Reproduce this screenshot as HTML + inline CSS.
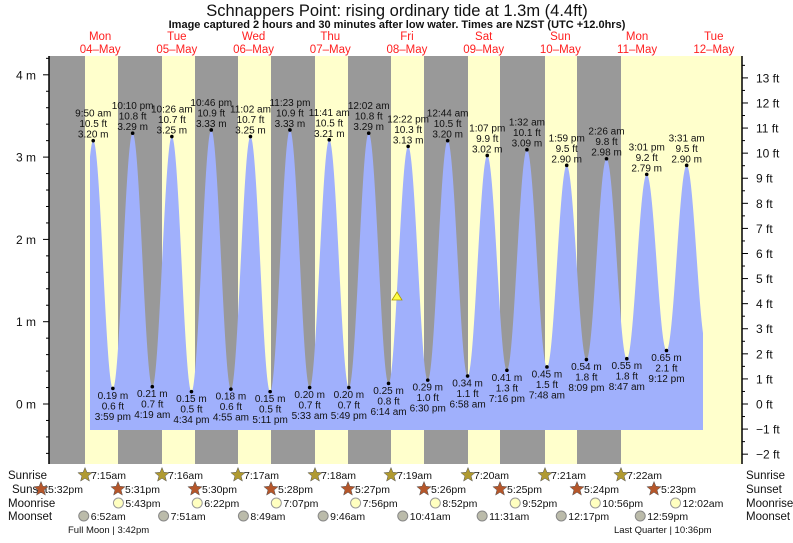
<!DOCTYPE html>
<html><head><meta charset="utf-8">
<style>
body{margin:0;background:#fff;}
svg text{font-family:"Liberation Sans",sans-serif;}
</style></head>
<body>
<svg id="s" width="793" height="538" viewBox="0 0 793 538" xmlns="http://www.w3.org/2000/svg">
<rect width="793" height="538" fill="#fff"/>
<text x="397" y="16" font-size="16.5" text-anchor="middle" fill="#111">Schnappers Point: rising  ordinary tide at 1.3m (4.4ft)</text>
<text x="397" y="28" font-size="11" font-weight="bold" text-anchor="middle" fill="#111">Image captured 2 hours and 30 minutes after low water. Times are NZST (UTC +12.0hrs)</text>
<g id="g"></g>
</svg>
<script>
const NS="http://www.w3.org/2000/svg",g=document.getElementById('g');
function el(t,a,txt){const e=document.createElementNS(NS,t);for(const k in a)e.setAttribute(k,a[k]);if(txt!==undefined)e.textContent=txt;g.appendChild(e);return e;}
const X=h=>61.8+h*3.196, Y=m=>404-m*82.3;
el('rect',{x:49,y:56,width:693,height:408,fill:'#ffffcc'});
[[49,85],[118,162],[195,238],[271,315],[348,391],[424,468],[500,545],[577,621]].forEach(([a,b])=>el('rect',{x:a,y:56,width:b-a,height:408,fill:'#999999'}));
const days=[['Mon','04–May'],['Tue','05–May'],['Wed','06–May'],['Thu','07–May'],['Fri','08–May'],['Sat','09–May'],['Sun','10–May'],['Mon','11–May'],['Tue','12–May']];
days.forEach((d,i)=>{const x=X(12+24*i);el('text',{x:x,y:40,'font-size':'11.5','text-anchor':'middle',fill:'#ff2020'},d[0]);el('text',{x:x,y:53,'font-size':'11.5','text-anchor':'middle',fill:'#ff2020'},d[1]);});
const T=[[3.683,0.2,''],[9.833,3.20,'9:50 am|10.5 ft'],[15.983,0.19,'3:59 pm|0.6 ft'],[22.167,3.29,'10:10 pm|10.8 ft'],[28.317,0.21,'4:19 am|0.7 ft'],[34.433,3.25,'10:26 am|10.7 ft'],[40.567,0.15,'4:34 pm|0.5 ft'],[46.767,3.33,'10:46 pm|10.9 ft'],[52.917,0.18,'4:55 am|0.6 ft'],[59.033,3.25,'11:02 am|10.7 ft'],[65.183,0.15,'5:11 pm|0.5 ft'],[71.383,3.33,'11:23 pm|10.9 ft'],[77.55,0.20,'5:33 am|0.7 ft'],[83.683,3.21,'11:41 am|10.5 ft'],[89.817,0.20,'5:49 pm|0.7 ft'],[96.033,3.29,'12:02 am|10.8 ft'],[102.233,0.25,'6:14 am|0.8 ft'],[108.367,3.13,'12:22 pm|10.3 ft'],[114.5,0.29,'6:30 pm|1.0 ft'],[120.733,3.20,'12:44 am|10.5 ft'],[126.967,0.34,'6:58 am|1.1 ft'],[133.117,3.02,'1:07 pm|9.9 ft'],[139.267,0.41,'7:16 pm|1.3 ft'],[145.533,3.09,'1:32 am|10.1 ft'],[151.8,0.45,'7:48 am|1.5 ft'],[157.983,2.90,'1:59 pm|9.5 ft'],[164.15,0.54,'8:09 pm|1.8 ft'],[170.433,2.98,'2:26 am|9.8 ft'],[176.783,0.55,'8:47 am|1.8 ft'],[183.017,2.79,'3:01 pm|9.2 ft'],[189.2,0.65,'9:12 pm|2.1 ft'],[195.517,2.90,'3:31 am|9.5 ft'],[201.7,0.7,'']];
function lvl(h){for(let i=0;i<T.length-1;i++){const a=T[i],b=T[i+1];if(h>=a[0]&&h<=b[0]){const f=(h-a[0])/(b[0]-a[0]);return a[1]+(b[1]-a[1])*(1-Math.cos(Math.PI*f))/2;}}return 0;}
let pts=['90,430'];
for(let x=90;x<=703;x+=0.5){const h=(x-61.8)/3.196;pts.push(x+','+Y(lvl(h)).toFixed(2));}
pts.push('703,430');
el('polygon',{points:pts.join(' '),fill:'#a0b0fc'});
T.forEach((t,i)=>{if(!t[2])return;const x=X(t[0]),y=Y(t[1]),p=t[2].split('|');el('circle',{cx:x,cy:y,r:1.8,fill:'#000'});
const fs={'font-size':'10','text-anchor':'middle',fill:'#111'};
if(t[1]>1){el('text',Object.assign({x:x,y:y-3},fs),t[1].toFixed(2)+' m');el('text',Object.assign({x:x,y:y-13.5},fs),p[1]);el('text',Object.assign({x:x,y:y-24},fs),p[0]);}
else{el('text',Object.assign({x:x,y:y+10.5},fs),t[1].toFixed(2)+' m');el('text',Object.assign({x:x,y:y+21},fs),p[1]);el('text',Object.assign({x:x,y:y+31.5},fs),p[0]);}});
el('polygon',{points:'397,292 392,300 402,300',fill:'#ffff44',stroke:'#aa9900','stroke-width':0.8});
el('line',{x1:49,y1:56,x2:49,y2:464,stroke:'#000','stroke-width':1.5});
el('line',{x1:742,y1:56,x2:742,y2:464,stroke:'#000','stroke-width':1.5});
for(let m=-0.6;m<=4.21;m+=0.2){const y=Y(m),maj=Math.abs(m-Math.round(m))<0.01;el('line',{x1:maj?43:46,y1:y,x2:49,y2:y,stroke:'#000'});if(maj)el('text',{x:36,y:y+4.5,'font-size':'12','text-anchor':'end',fill:'#111'},Math.round(m)+' m');}
for(let f=-2;f<=14;f+=0.5){const y=Y(f*0.3048);if(y<57)continue;const maj=f%1===0;el('line',{x1:742,y1:y,x2:maj?748:745,y2:y,stroke:'#000'});if(maj)el('text',{x:756,y:y+4.5,'font-size':'12',fill:'#111'},(f<0?'−'+(-f):f)+' ft');}
const lab=(y,t)=>{el('text',{x:8,y:y,'font-size':'11.5',fill:'#111'},t);el('text',{x:746,y:y,'font-size':'11.5',fill:'#111'},t);};
el('text',{x:8,y:479,'font-size':'11.5',fill:'#111'},'Sunrise');el('text',{x:746,y:479,'font-size':'11.5',fill:'#111'},'Sunrise');
el('text',{x:12,y:493,'font-size':'11.5',fill:'#111'},'Sunset');el('text',{x:746,y:493,'font-size':'11.5',fill:'#111'},'Sunset');
lab(507,'Moonrise');lab(520,'Moonset');
function star(cx,cy,c){let p=[];for(let i=0;i<10;i++){const r=i%2?3.3:7.5,a=-Math.PI/2+i*Math.PI/5;p.push((cx+r*Math.cos(a)).toFixed(1)+','+(cy+r*Math.sin(a)).toFixed(1));}el('polygon',{points:p.join(' '),fill:c,stroke:'#555','stroke-width':0.5});}
const sr=[85,162,238,315,391,468,545,621];sr.forEach((x,i)=>{star(x,475,'#b09a30');el('text',{x:x+6,y:479,'font-size':'10.5',fill:'#111'},'7:'+(15+i)+'am');});
const ss=[41,118,195,271,348,424,500,577,654],sst=['5:32pm','5:31pm','5:30pm','5:28pm','5:27pm','5:26pm','5:25pm','5:24pm','5:23pm'];
ss.forEach((x,i)=>{star(x,489,'#b5562a');el('text',{x:x+7,y:493,'font-size':'10.5',fill:'#111'},sst[i]);});
const mr=[[17.72,'5:43pm'],[42.37,'6:22pm'],[67.12,'7:07pm'],[91.93,'7:56pm'],[116.87,'8:52pm'],[141.87,'9:52pm'],[166.93,'10:56pm'],[192.03,'12:02am']];
mr.forEach(([h,t])=>{const x=X(h);el('circle',{cx:x,cy:503,r:5,fill:'#ffffc0',stroke:'#999'});el('text',{x:x+7,y:507,'font-size':'10.5',fill:'#111'},t);});
const ms=[[6.87,'6:52am'],[31.85,'7:51am'],[56.82,'8:49am'],[81.77,'9:46am'],[106.68,'10:41am'],[131.52,'11:31am'],[156.28,'12:17pm'],[180.98,'12:59pm']];
ms.forEach(([h,t])=>{const x=X(h);el('circle',{cx:x,cy:516,r:5,fill:'#bbbbaa',stroke:'#888'});el('text',{x:x+7,y:520,'font-size':'10.5',fill:'#111'},t);});
el('text',{x:68,y:533,'font-size':'9.5',fill:'#111'},'Full Moon | 3:42pm');
el('text',{x:614,y:533,'font-size':'9.5',fill:'#111'},'Last Quarter | 10:36pm');
</script>
</body></html>
